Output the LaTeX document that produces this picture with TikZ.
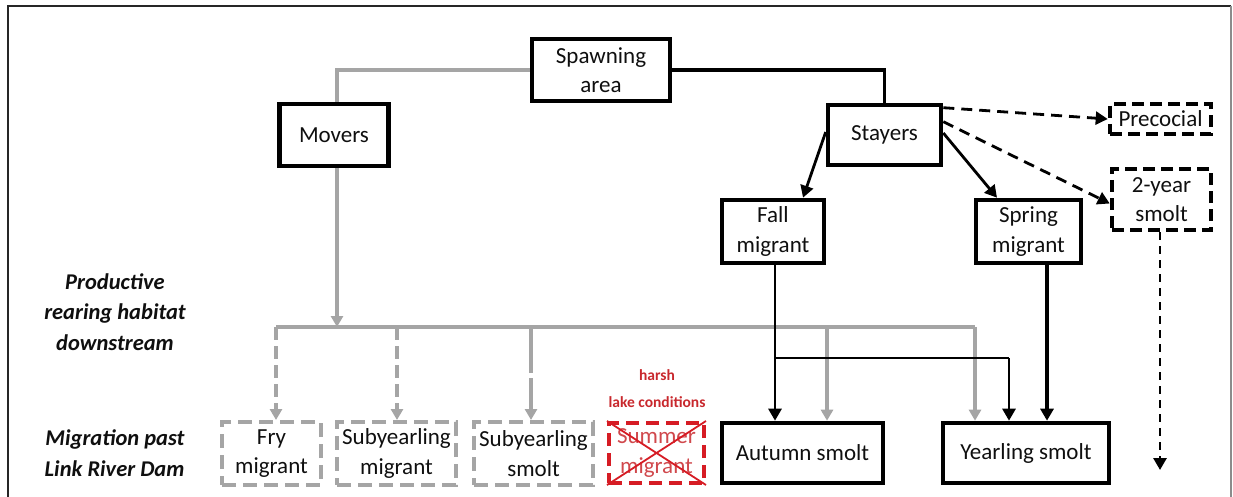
\documentclass[tikz,border=0pt]{standalone}
\usepackage{fontspec}
\setmainfont{Carlito}
\usetikzlibrary{arrows.meta}
\definecolor{linegray}{RGB}{165,165,165}
\definecolor{boxred}{RGB}{214,28,36}
\definecolor{txtred}{RGB}{200,40,45}
\definecolor{ink}{RGB}{15,15,15}
\begin{document}
\begin{tikzpicture}[x=1pt,y=-1pt,
  every node/.style={font=\fontsize{23}{29.5}\selectfont, text=ink},
  box/.style={draw=black, line width=4.6pt, rectangle, align=center, inner sep=0pt},
  dbox/.style={box, dash pattern=on 12pt off 6pt},
  gbox/.style={draw=linegray, line width=4pt, rectangle, align=center, inner sep=0pt, dash pattern=on 14pt off 7pt},
  rbox/.style={draw=boxred, line width=4pt, rectangle, align=center, inner sep=0pt, dash pattern=on 13pt off 7pt, text=txtred!85},
  gline/.style={draw=linegray, line width=4pt},
  garrow/.style={gline, -{Triangle[length=11pt,width=12pt]}},
  bline/.style={draw=black, line width=3.4pt},
  barrow/.style={draw=black, line width=2.8pt, -{Triangle[length=12pt,width=13pt]}},
  darrow/.style={barrow, dash pattern=on 11pt off 7pt},
  sidelabel/.style={font=\fontsize{22.5}{30.5}\selectfont\bfseries\itshape},
  warn/.style={font=\fontsize{15.5}{27}\selectfont\bfseries, text=txtred}
]
\useasboundingbox (0,0) rectangle (1233,497);

% frame
\draw[line width=2.8pt, draw=black!85] (8,520) -- (8,6) -- (1231,6);
\draw[line width=2pt, draw=black!45] (1231,6) -- (1231,520);

% upper tier
\node[box, minimum width=138pt, minimum height=62pt] (spawn) at (601,70) {Spawning\\area};
\node[box, minimum width=109pt, minimum height=62pt] (movers) at (334,135) {Movers};
\node[box, minimum width=113pt, minimum height=60pt] (stayers) at (884.5,135) {Stayers};
\node[dbox, minimum width=101pt, minimum height=30pt] (preco) at (1160.5,119) {Precocial};
\node[dbox, minimum width=99pt, minimum height=61pt] (twoyr) at (1161.5,199.5) {2-year\\smolt};
\node[box, minimum width=102pt, minimum height=63pt] (fall) at (773,231.5) {Fall\\migrant};
\node[box, minimum width=105pt, minimum height=63pt] (spring) at (1028.5,231.5) {Spring\\migrant};

% bottom tier
\node[gbox, minimum width=99pt, minimum height=63pt] (fry) at (271.5,453.5) {Fry\\migrant};
\node[gbox, minimum width=119pt, minimum height=63pt] (subm) at (396.5,453.5) {Subyearling\\migrant};
\node[gbox, minimum width=119pt, minimum height=63pt] (subs) at (533.5,453.5) {Subyearling\\smolt};
\node[rbox, minimum width=95pt, minimum height=60pt] (summer) at (656.5,453) {Summer\\migrant};
\node[box, minimum width=161pt, minimum height=60pt] (autumn) at (802.5,453) {Autumn smolt};
\node[box, minimum width=166pt, minimum height=60pt] (yearling) at (1026,453) {Yearling smolt};

% crossed-out summer migrants
\draw[draw=boxred, line width=1.8pt] (summer.north west) -- (summer.south east);
\draw[draw=boxred, line width=1.8pt] (summer.north east) -- (summer.south west);
\node[warn] (harsh) at (657,375) {harsh};
\node[warn] (lake) at (657,402) {lake conditions};

% row labels
\node[sidelabel, align=center] (prod) at (115,312) {Productive\\rearing habitat\\downstream};
\node[sidelabel, align=right, anchor=east] (migr) at (188,453) {Migration past\\Link River Dam};

% movers branch (grey)
\coordinate (mvtop) at (337,70);
\coordinate (busL) at (276,327);
\coordinate (busM) at (337,327);
\coordinate (busR) at (975,327);
\draw[gline] (spawn.west) -- (mvtop) -- (mvtop |- movers.north);
\draw[garrow] (mvtop |- movers.south) -- (busM);
\draw[gline] (busL) -- (busR);
\draw[garrow, dash pattern=on 13pt off 6pt] (busL) -- (busL |- fry.north);
\coordinate (b2) at (397,327);
\draw[garrow, dash pattern=on 13pt off 6pt] (b2) -- (b2 |- subm.north);
\coordinate (b3) at (531,327);
\draw[garrow, dash pattern=on 46pt off 5pt] (b3) -- (b3 |- subs.north);
\coordinate (b4) at (827,327);
\draw[garrow] (b4) -- (b4 |- autumn.north);
\draw[garrow] (busR) -- (busR |- yearling.north);

% stayers branch (black)
\draw[bline] (spawn.east) -| (stayers.north);
\draw[barrow] ([yshift=3]stayers.west) -- ([xshift=30]fall.north);
\draw[barrow] ([yshift=2]stayers.east) -- ([xshift=-31.5]spring.north);
\draw[darrow] ([yshift=-5]stayers.north east) -- (preco.west);
\draw[darrow] ([yshift=-19]stayers.north east) -- ([yshift=-4]twoyr.west);
\coordinate (fx) at (775,265);
\draw[barrow] (fx) -- (fx |- autumn.north);
\coordinate (jn) at (775,358);
\coordinate (yx) at (1009,358);
\draw[draw=black, line width=2.3pt] (jn) -- (yx);
\draw[barrow] (yx) -- (yx |- yearling.north);
\coordinate (sx) at (1047,265);
\draw[barrow, line width=3.3pt] (sx) -- (sx |- yearling.north);
\coordinate (twoend) at (1160,470);
\draw[barrow, dash pattern=on 8pt off 6pt] (twoyr.south -| twoend) -- (twoend);
\end{tikzpicture}
\end{document}
